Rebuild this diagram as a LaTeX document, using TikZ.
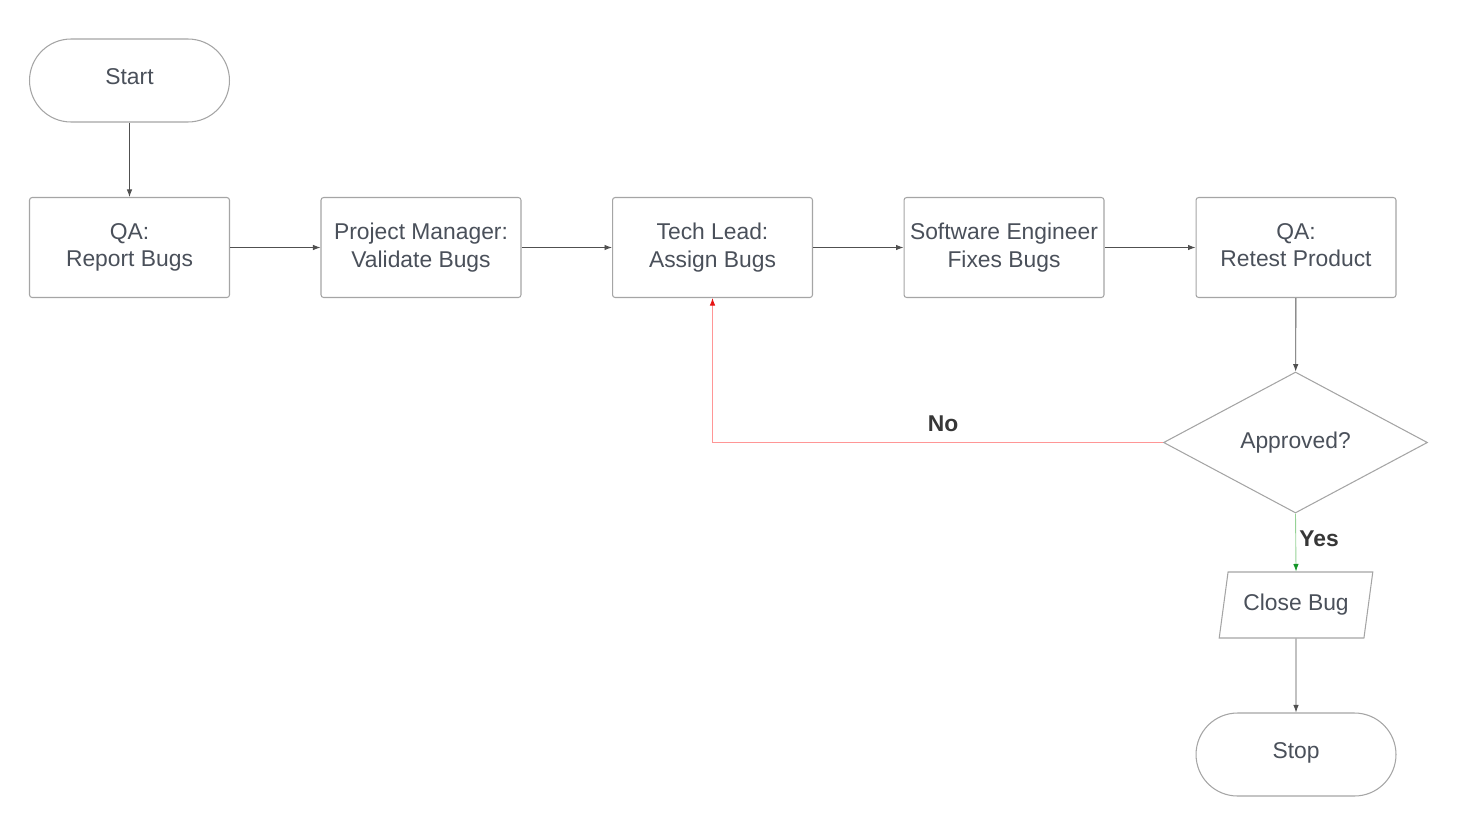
\documentclass[tikz,border=0pt]{standalone}
\usepackage{fontspec}
\setmainfont{Liberation Sans}
\usetikzlibrary{arrows.meta,positioning,shapes.geometric}
\definecolor{InkGray}{RGB}{74,80,90}
\definecolor{EdgeGray}{RGB}{165,165,165}
\definecolor{LineDark}{RGB}{80,80,80}
\definecolor{NoRed}{RGB}{255,150,150}
\definecolor{TipRed}{RGB}{230,20,20}
\definecolor{YesGreen}{RGB}{150,210,150}
\definecolor{TipGreen}{RGB}{20,150,40}
\definecolor{LabelDark}{RGB}{55,55,55}
\tikzset{
  >=Latex,
  base/.style={draw=EdgeGray,line width=.6pt,fill=white,align=center,text=InkGray,font=\fontsize{13}{15.9}\selectfont,inner sep=2pt},
  process/.style={base,rounded corners=1.5pt,minimum width=4cm,minimum height=2cm,execute at end node={\rule[-2.8pt]{0pt}{1pt}}},
  terminal/.style={base,rounded corners=.83cm,minimum width=4cm,minimum height=1.66cm,text height=9.4pt,text depth=4.6pt},
  decision/.style={base,diamond,aspect=1.87,minimum width=5.28cm,minimum height=2.82cm},
  io/.style={base,trapezium,trapezium left angle=75.5,trapezium right angle=104.5,trapezium stretches=true,minimum width=3.08cm,minimum height=1.32cm},
  answer/.style={font=\bfseries\fontsize{13}{15.9}\selectfont,text=LabelDark},
  flow/.style={-{Latex[length=1.5mm,width=1.1mm]},line width=.5pt,draw=LineDark},
  nopath/.style={-{Latex[length=1.5mm,width=1.1mm,color=TipRed]},line width=.5pt,draw=NoRed},
  yespath/.style={-{Latex[length=1.5mm,width=1.1mm,color=TipGreen]},line width=.5pt,draw=YesGreen}
}
\begin{document}
\begin{tikzpicture}[x=0.02cm,y=-0.02cm]
  \useasboundingbox (0,0) rectangle (1467,832);
  \node[terminal] (start) at (129.5,80.5) {Start};
  \node[process] (report) at (129.5,247.5) {QA:\\Report Bugs};
  \node[process] (validate) at (421,247.5) {Project Manager:\\Validate Bugs};
  \node[process] (assign) at (712.5,247.5) {Tech Lead:\\Assign Bugs};
  \node[process] (fix) at (1004,247.5) {Software Engineer\\Fixes Bugs};
  \node[process] (retest) at (1296,247.5) {QA:\\Retest Product};
  \node[decision] (approved) at (1295.5,442.5) {Approved?};
  \node[io] (close) at (1296,605) {Close Bug};
  \node[terminal] (stop) at (1296,754.5) {Stop};
  \coordinate (bend) at (assign.south |- approved.west);
  \node[answer] (nolabel) at (943,424) {No};
  \node[answer] (yeslabel) at (1319,539) {Yes};
  \draw[flow] (start) -- (report);
  \draw[flow] (report) -- (validate);
  \draw[flow] (validate) -- (assign);
  \draw[flow] (assign) -- (fix);
  \draw[flow] (fix) -- (retest);
  \draw[flow] (retest) -- (approved);
  \draw[nopath] (approved.west) -- (bend) -- (assign.south);
  \draw[yespath] (approved.south) -- (close.north);
  \draw[flow] (close) -- (stop);
\end{tikzpicture}
\end{document}
